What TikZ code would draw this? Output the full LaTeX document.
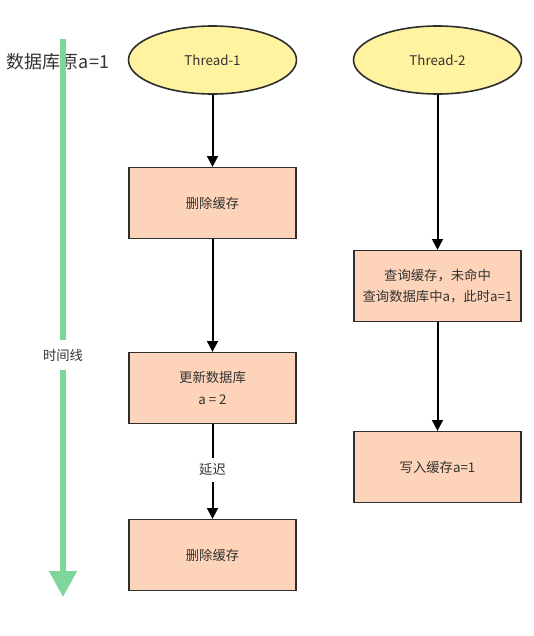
\documentclass[tikz,border=0pt]{standalone}
\usepackage{fontspec}
\setmainfont{Noto Sans CJK SC}
\usepackage{tikz}
\usetikzlibrary{arrows.meta,shapes.geometric}
\definecolor{threadyellow}{HTML}{FFF2A0}
\definecolor{stepfill}{HTML}{FDD4B9}
\definecolor{timegreen}{HTML}{7ED69B}
\definecolor{edgegray}{HTML}{2E2E2E}
\definecolor{textgray}{HTML}{333333}

\begin{document}
\begin{tikzpicture}[x=0.75pt,y=-0.75pt,>={Triangle[length=8pt,width=8pt]},
		thread/.style={ellipse,draw=edgegray,line width=1.2pt,fill=threadyellow,
			minimum width=126pt,minimum height=51pt,text=textgray,font=\fontsize{10}{12}\selectfont},
		stepbox/.style={rectangle,draw=edgegray,line width=1.2pt,fill=stepfill,
			minimum width=125pt,minimum height=53pt,align=center,text=textgray,
			font=\fontsize{10}{16}\selectfont},
		flow/.style={->,line width=1.5pt,black}]
			\useasboundingbox (0,0) rectangle (534,636);
			
			% 左侧时间线
			\node[text=textgray,font=\fontsize{13.5}{16}\selectfont] (dbinit) at (58,62) {数据库原a=1};
			\coordinate (tlTop) at (63,39);
			\coordinate (tlEnd) at (63,597);
			\node[text=textgray,inner sep=0pt,minimum height=22pt,font=\fontsize{10}{12}\selectfont] (tlLabel) at (63,355) {时间线};
			\draw[timegreen,line width=4.5pt] (tlTop) -- (tlLabel);
			\draw[timegreen,line width=4.5pt,-{Triangle[length=19.5pt,width=20pt]}] (tlLabel) -- (tlEnd);
			
			% Thread-1
			\node[thread] (t1) at (212.5,60) {Thread-1};
			\node[stepbox] (del1) at (212.5,203) {删除缓存};
			\node[stepbox] (upd) at (212.5,388) {更新数据库\\a = 2};
			\node[stepbox] (del2) at (212.5,555) {删除缓存};
			\node[text=textgray,inner sep=0pt,minimum height=17pt,font=\fontsize{10}{12}\selectfont] (delay) at (212.5,470) {延迟};
			
			\draw[flow] (t1) -- (del1);
			\draw[flow] (del1) -- (upd);
			\draw[line width=1.5pt] (upd) -- (delay);
			\draw[flow] (delay) -- (del2);
			
			% Thread-2
			\node[thread] (t2) at (437.5,60) {Thread-2};
			\node[stepbox] (query) at (437.5,286) {查询缓存，未命中\\查询数据库中a，此时a=1};
			\node[stepbox] (write) at (437.5,467) {写入缓存a=1};
			
			\draw[flow] (t2) -- (query);
			\draw[flow] (query) -- (write);
		\end{tikzpicture}
\end{document}
